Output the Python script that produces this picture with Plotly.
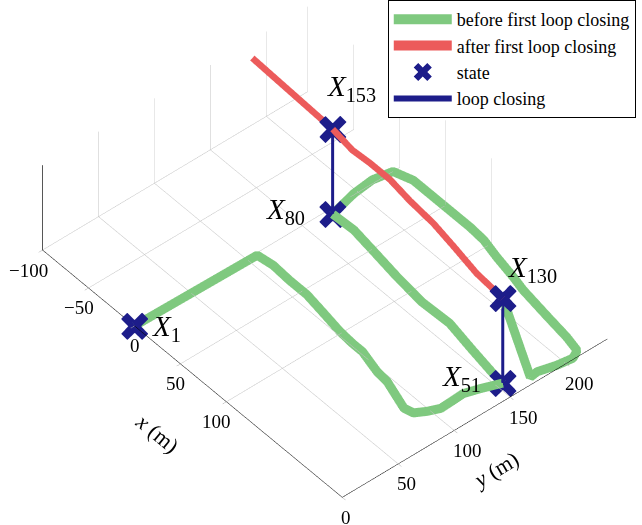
import math
import plotly.graph_objects as go

# Robot trajectory before the first loop closing (metres).
# Poses up to X51 -> X80 -> loop sit on the lower level; X130 is on the upper level.
green_x = [0, 2, 17, 36, 55, 77, 98, 113, 124, 137, 146, 158, 172, 186, 194, 199, 203, 202, 206, 212,
           200, 173, 142, 113, 82, 51, 27, 5,
           -1, -3, 0, 16, 38, 60, 78, 94, 113, 136, 150, 181, 206, 221, 225, 223, 219, 220, 212]
green_y = [0, 108, 110, 109, 109, 106, 103, 102, 102, 99, 97, 96, 92, 88, 90, 98, 107, 128, 140, 155,
           156, 160, 165, 164, 167, 171, 174, 173,
           197, 215, 231, 236, 236, 236, 236, 235, 231, 227, 224, 220, 217, 214, 207, 194, 180, 173, 155]
green_z = [0] * 46 + [1]

# Trajectory after the first loop closing (upper level)
red_x = [212, 181, 150, 123, 95, 70, 48, 30, 5, -86]
red_y = [155, 157, 162, 166, 168, 171, 171, 170, 173, 176]
red_z = [1] * 10

# Labelled states
state_idx = [1, 51, 80, 130, 153]
state_x = [0, 212, 5, 212, 5]
state_y = [0, 155, 173, 155, 173]
state_z = [0, 0, 0, 1, 1]

# Loop closures between pairs of states (index into state lists)
loop_pairs = [(1, 3), (2, 4)]

x_ticks = [-100, -50, 0, 50, 100]
y_ticks = [0, 50, 100, 150, 200]
x_range = [-100, 226]
y_range = [0, 237]
z_range = [0, 1]

GREEN = "#7fc97f"
RED = "#ec5b5b"
NAVY = "#1d1d8a"
FONT = "Liberation Serif"


def tick_text(v):
    return ("\u2212" + str(-v)) if v < 0 else str(v)


fig = go.Figure()
fig.add_trace(go.Scatter3d(
    x=green_x, y=green_y, z=green_z, mode="lines",
    line=dict(color=GREEN, width=18), name="before first loop closing", hoverinfo="skip"))
fig.add_trace(go.Scatter3d(
    x=red_x, y=red_y, z=red_z, mode="lines",
    line=dict(color=RED, width=13), name="after first loop closing", hoverinfo="skip"))

lx, ly, lz = [], [], []
for a, b in loop_pairs:
    lx += [state_x[a], state_x[b], None]
    ly += [state_y[a], state_y[b], None]
    lz += [state_z[a], state_z[b], None]

# Legend entry for the state marks (a bold cross)
fig.add_trace(go.Scatter(
    x=[None], y=[None], mode="markers", name="state",
    marker=dict(symbol="x", size=16, color=NAVY, line=dict(width=0)), hoverinfo="skip"))
fig.add_trace(go.Scatter3d(
    x=lx, y=ly, z=lz, mode="lines",
    line=dict(color=NAVY, width=6), name="loop closing", hoverinfo="skip"))
# State marks drawn as heavy crosses
fig.add_trace(go.Scatter3d(
    x=state_x, y=state_y, z=state_z, mode="text",
    text=["\u2716"] * len(state_x), textposition="middle center",
    textfont=dict(family="DejaVu Sans", size=41, color=NAVY),
    showlegend=False, hoverinfo="skip"))
# Vertical z axis line on the left edge of the box
fig.add_trace(go.Scatter3d(
    x=[x_range[0], x_range[0]], y=[y_range[0], y_range[0]], z=z_range, mode="lines",
    line=dict(color="black", width=1.5), showlegend=False, hoverinfo="skip"))

annotations = []

# State labels
label_pos = {
    1: dict(xanchor="left", yanchor="middle", xshift=15, yshift=-2),
    51: dict(xanchor="right", yanchor="middle", xshift=-20, yshift=5),
    80: dict(xanchor="right", yanchor="middle", xshift=-26, yshift=3),
    130: dict(xanchor="left", yanchor="bottom", xshift=3, yshift=9),
    153: dict(xanchor="left", yanchor="bottom", xshift=-8, yshift=21),
}
for i, k in enumerate(state_idx):
    annotations.append(dict(
        x=state_x[i], y=state_y[i], z=state_z[i],
        text=f"<i>X</i><sub>{k}</sub>", showarrow=False,
        font=dict(family=FONT, size=29, color="black"), **label_pos[k]))

# Tick labels along the front edges of the floor
tick_font = dict(family=FONT, size=19, color="black")
for v in x_ticks:
    annotations.append(dict(
        x=v, y=y_range[0], z=z_range[0], text=tick_text(v), showarrow=False,
        xanchor="right", yanchor="middle", xshift=7, yshift=-20, font=tick_font))
for v in y_ticks:
    annotations.append(dict(
        x=x_range[1], y=v, z=z_range[0], text=tick_text(v), showarrow=False,
        xanchor="left", yanchor="middle", xshift=-3, yshift=-20, font=tick_font))

# Axis titles, set along their axes
title_font = dict(family=FONT, size=22, color="black")
annotations.append(dict(
    x=(x_range[0] + x_range[1]) / 2, y=y_range[0], z=z_range[0],
    text="<i>x</i> (m)", showarrow=False, textangle=39.5,
    xanchor="center", yanchor="middle", xshift=-35, yshift=-60, font=title_font))
annotations.append(dict(
    x=x_range[1], y=(y_range[0] + y_range[1]) / 2, z=z_range[0],
    text="<i>y</i> (m)", showarrow=False, textangle=-31,
    xanchor="center", yanchor="middle", xshift=21, yshift=-51, font=title_font))

axis_common = dict(
    showbackground=False, showspikes=False, zeroline=False,
    gridcolor="#c2c2c2", gridwidth=1,
    showline=True, linecolor="black", linewidth=1,
    ticks="inside", ticklen=5, tickcolor="#b0b0b0",
    showticklabels=False, title=dict(text=""),
)

# Viewing direction (orthographic)
az = math.radians(-40.4)
el = math.radians(44.6)
dist = 2.0
eye = dict(x=dist * math.cos(el) * math.cos(az),
           y=dist * math.cos(el) * math.sin(az),
           z=dist * math.sin(el))
scale = 1.835

fig.update_layout(
    width=642, height=525,
    margin=dict(l=0, r=0, t=0, b=0),
    paper_bgcolor="white",
    plot_bgcolor="rgba(0,0,0,0)",
    font=dict(family=FONT, color="black"),
    showlegend=True,
    legend=dict(x=0.604, y=1, xanchor="left", yanchor="top", itemwidth=58,
                bgcolor="white", bordercolor="black", borderwidth=1,
                font=dict(family=FONT, size=18, color="black")),
    xaxis=dict(visible=False, domain=[0, 0.01]),
    yaxis=dict(visible=False, domain=[0, 0.01]),
    scene=dict(
        domain=dict(x=[0.0125, 1], y=[0.04, 1]),
        aspectmode="manual",
        aspectratio=dict(x=1 * scale, y=0.753 * scale, z=0.258 * scale),
        camera=dict(eye=eye, up=dict(x=0, y=0, z=1), center=dict(x=0, y=0, z=0),
                    projection=dict(type="orthographic")),
        xaxis=dict(range=x_range, tickvals=x_ticks, **axis_common),
        yaxis=dict(range=y_range, tickvals=y_ticks, **axis_common),
        zaxis=dict(range=z_range, showticklabels=False, showgrid=False, ticks="",
                   title=dict(text=""), showbackground=False, showspikes=False, zeroline=False,
                   showline=False),
        annotations=annotations,
    ),
)

fig.write_html("out.html")
